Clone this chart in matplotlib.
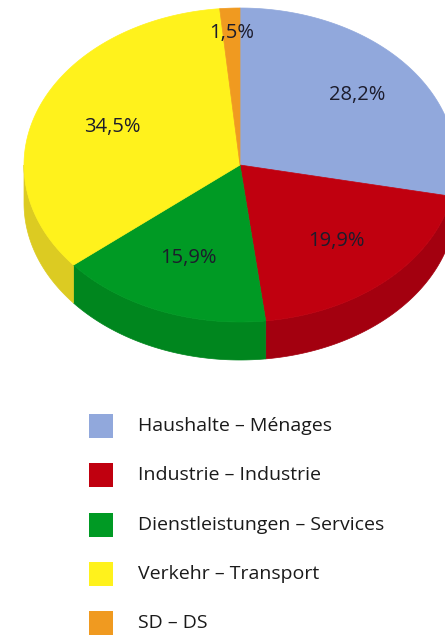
import numpy as np
import matplotlib
matplotlib.use("Agg")
import matplotlib.pyplot as plt
from matplotlib.patches import Polygon, Rectangle

plt.rcParams["font.family"] = ["Open Sans", "DejaVu Sans"]

# slices, clockwise from 12 o'clock
shares = [28.2, 19.9, 15.9, 34.5, 1.5]
share_labels = ["28,2%", "19,9%", "15,9%", "34,5%", "1,5%"]
legend_labels = [
    "Haushalte – Ménages",
    "Industrie – Industrie",
    "Dienstleistungen – Services",
    "Verkehr – Transport",
    "SD – DS",
]
top_colors = ["#91a8dc", "#c0000f", "#009a24", "#fff21c", "#f09a20"]
side_colors = ["#7d93c4", "#a3000f", "#00861e", "#dccb22", "#d0861c"]
label_r = [0.70, 0.66, 0.64, 0.64, 0.84]

# pie geometry in pixel units (y down)
cx, cy = 240, 165
rx, ry = 216, 157
depth = 38

fig = plt.figure(figsize=(4.45, 6.37), dpi=100)
ax = fig.add_axes([0, 0, 1, 1])
ax.set_xlim(0, 445)
ax.set_ylim(637, 0)
ax.axis("off")


def rim(t):
    # t in degrees, counter-clockwise from 3 o'clock, screen y grows down
    r = np.radians(t)
    return cx + rx * np.cos(r), cy - ry * np.sin(r)


ends = 90 - np.cumsum(shares) / 100 * 360
starts = np.concatenate([[90], ends[:-1]])

# side walls (only the front half, 180..360 deg)
for a0, a1, col in zip(starts, ends, side_colors):
    lo, hi = min(a0, a1) % 360, max(a0, a1) % 360
    if hi <= lo:
        hi += 360
    seg_lo, seg_hi = max(lo, 180), min(hi, 360)
    if seg_hi <= seg_lo:
        continue
    t = np.linspace(seg_lo, seg_hi, 80)
    x, y = rim(t)
    pts = np.column_stack([np.r_[x, x[::-1]], np.r_[y, y[::-1] + depth]])
    ax.add_patch(Polygon(pts, closed=True, facecolor=col, edgecolor=col, lw=0.5))

# top faces
for a0, a1, col in zip(starts, ends, top_colors):
    t = np.linspace(a0, a1, 120)
    x, y = rim(t)
    pts = np.column_stack([np.r_[cx, x], np.r_[cy, y]])
    ax.add_patch(Polygon(pts, closed=True, facecolor=col, edgecolor=col, lw=0.5))

# percentage labels
for a0, a1, lab, f in zip(starts, ends, share_labels, label_r):
    mid = np.radians((a0 + a1) / 2)
    ax.text(cx + f * rx * np.cos(mid), cy - f * ry * np.sin(mid), lab,
            ha="center", va="center", fontsize=14.5, color="#1c1c2c")

# legend
for i, (lab, col) in enumerate(zip(legend_labels, top_colors)):
    yc = 426 + i * 49.3
    ax.add_patch(Rectangle((89, yc - 12), 24, 24, facecolor=col, edgecolor="none"))
    ax.text(138, yc, lab, ha="left", va="center", fontsize=14, color="#1a1a1a")

fig.savefig("out.png", dpi=100)
